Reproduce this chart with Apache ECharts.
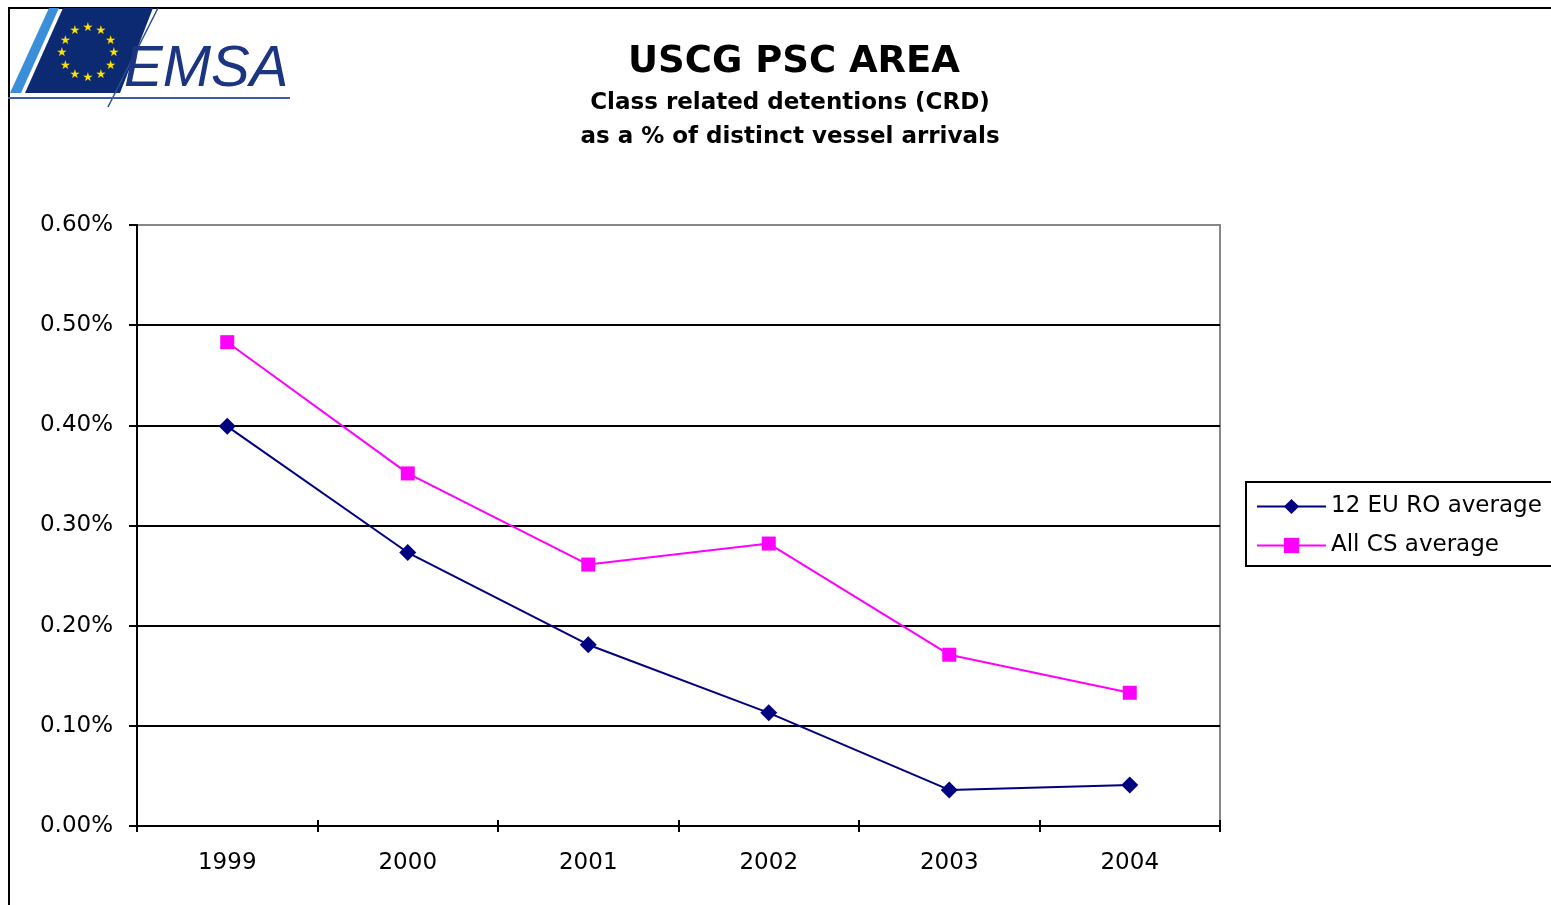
<!DOCTYPE html>
<html><head><meta charset="utf-8">
<script src="https://cdn.jsdelivr.net/npm/echarts@6/dist/echarts.min.js"></script>
<style>html,body{margin:0;padding:0;background:#fff}#c{width:1551px;height:905px}</style>
</head><body><div id="c"></div>
<script>
// ---- data ----
const years = ['1999', '2000', '2001', '2002', '2003', '2004'];
const euRoAverage = [0.399, 0.273, 0.181, 0.113, 0.036, 0.041];
const allCsAverage = [0.483, 0.352, 0.261, 0.282, 0.171, 0.133];
const seriesNames = ['12 EU RO average', 'All CS average'];
const titleText = 'USCG PSC AREA';
const subtitleText = 'Class related detentions (CRD)\nas a % of distinct vessel arrivals';
const yMin = 0, yMax = 0.6, yStep = 0.1;
const logoText = 'EMSA';

// ---- chart ----
const FONT = '"DejaVu Sans", "Liberation Sans", Arial, sans-serif';
const chart = echarts.init(document.getElementById('c'), null, {renderer: 'canvas'});

// decorative logo stars
const stars = [];
for (let i = 0; i < 12; i++) {
  const a = i / 12 * Math.PI * 2;
  stars.push({
    type: 'text', z: 12,
    x: 88 + 26 * Math.sin(a), y: 53 - 25 * Math.cos(a),
    style: {text: '★', fill: '#ffe000', font: '12px "DejaVu Sans"', align: 'center', verticalAlign: 'middle'}
  });
}

const option = {
  backgroundColor: '#fff',
  animation: false,
  title: [
    {text: titleText, left: 789, top: 39, textAlign: 'center',
     textStyle: {fontFamily: FONT, fontSize: 37, fontWeight: 'bold', color: '#000'}},
    {text: subtitleText, left: 785, top: 81, textAlign: 'center',
     textStyle: {fontFamily: FONT, fontSize: 23, fontWeight: 'bold', color: '#000', lineHeight: 34}}
  ],
  grid: {left: 137, right: 331, top: 225, bottom: 79, show: true,
         borderColor: '#888', borderWidth: 2, backgroundColor: 'transparent'},
  legend: {
    data: seriesNames, orient: 'vertical', left: 1246, top: 482,
    borderColor: '#000', borderWidth: 2, padding: [13, 30, 9, 10],
    backgroundColor: '#fff',
    itemWidth: 69, itemHeight: 19, itemGap: 16,
    textStyle: {fontFamily: FONT, fontSize: 23, color: '#000'}
  },
  xAxis: [
    {type: 'category', data: years, boundaryGap: true,
     axisLine: {lineStyle: {color: '#000', width: 2}},
     axisTick: {show: true, length: 6, lineStyle: {color: '#000', width: 2}},
     axisLabel: {color: '#000', fontFamily: FONT, fontSize: 23, margin: 26},
     splitLine: {show: false}},
    {type: 'category', data: years, boundaryGap: true, position: 'bottom', offset: 0,
     axisLine: {show: false},
     axisTick: {show: true, inside: true, length: 6, lineStyle: {color: '#000', width: 2}},
     axisLabel: {show: false}, splitLine: {show: false}}
  ],
  yAxis: {
    type: 'value', min: yMin, max: yMax, interval: yStep,
    axisLine: {show: true, lineStyle: {color: '#000', width: 2}},
    axisTick: {show: true, length: 8, lineStyle: {color: '#000', width: 2}},
    axisLabel: {color: '#000', fontFamily: FONT, fontSize: 23, margin: 24,
                formatter: v => v.toFixed(2) + '%'},
    splitLine: {show: true, lineStyle: {width: 2,
      color: ['#000', '#000', '#000', '#000', '#000', '#000', '#888']}}
  },
  series: [
    {name: seriesNames[0], type: 'line', data: euRoAverage, xAxisIndex: 0,
     symbol: 'diamond', symbolSize: 17,
     itemStyle: {color: '#000080'}, lineStyle: {color: '#000080', width: 2}, z: 3},
    {name: seriesNames[1], type: 'line', data: allCsAverage, xAxisIndex: 0,
     symbol: 'rect', symbolSize: 14,
     itemStyle: {color: '#ff00ff'}, lineStyle: {color: '#ff00ff', width: 2}, z: 4}
  ],
  graphic: [
    {type: 'line', shape: {x1: 8, y1: 8, x2: 1551, y2: 8}, style: {stroke: '#000', lineWidth: 2}},
    {type: 'line', shape: {x1: 9, y1: 8, x2: 9, y2: 905}, style: {stroke: '#000', lineWidth: 2}},
    {type: 'polygon', shape: {points: [[49, 8], [59, 8], [21, 93], [10, 93]]}, style: {fill: '#3b8fd8'}},
    {type: 'polygon', shape: {points: [[63, 8], [153, 8], [120, 93], [25, 93]]}, style: {fill: '#0b2a72'}},
    {type: 'line', shape: {x1: 158, y1: 8, x2: 108, y2: 107}, style: {stroke: '#2a4a9a', lineWidth: 1.5}},
    {type: 'line', shape: {x1: 8, y1: 98, x2: 290, y2: 98}, style: {stroke: '#3d5aa8', lineWidth: 2}},
    {type: 'text', x: 124, y: 99,
     style: {text: logoText, fill: '#1c3580', font: 'italic 58px "Liberation Sans"', verticalAlign: 'bottom'}},
    ...stars
  ]
};
chart.setOption(option);
</script>
</body></html>
